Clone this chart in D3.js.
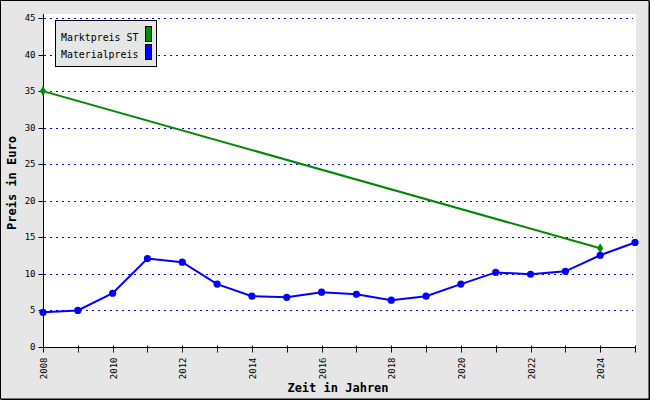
<!DOCTYPE html>
<html><head><meta charset="utf-8">
<script src="https://cdn.jsdelivr.net/npm/d3@7"></script>
<style>body{margin:0;padding:0;background:#fff}svg{display:block}</style>
</head><body>
<script>
const years = [2008,2009,2010,2011,2012,2013,2014,2015,2016,2017,2018,2019,2020,2021,2022,2023,2024,2025];
const materialpreis = [4.75,5.0,7.35,12.1,11.6,8.6,6.95,6.8,7.5,7.2,6.4,6.95,8.6,10.2,9.95,10.35,12.55,14.3];
const marktYears = [2008,2024];
const marktpreis = [35,13.5];
const yTicks = [0,5,10,15,20,25,30,35,40,45];
const xLabelYears = [2008,2010,2012,2014,2016,2018,2020,2022,2024];
const seriesNames = ["Marktpreis ST","Materialpreis"];
const seriesColors = ["#008800","#0000ff"];

const W=650,H=400;
const mono = "'DejaVu Sans Mono', monospace";
const svg = d3.select("body").append("svg").attr("width",W).attr("height",H);
svg.append("rect").attr("x",0.5).attr("y",0.5).attr("width",W-1.5).attr("height",H-1.5)
  .attr("fill","#e6e6e6").attr("stroke","#000").attr("stroke-width",1);
svg.append("line").attr("x1",W-0.5).attr("x2",W-0.5).attr("y1",1).attr("y2",H).attr("stroke","#000");
svg.append("line").attr("x1",1).attr("x2",W).attr("y1",H-0.5).attr("y2",H-0.5).attr("stroke","#000");

const x = d3.scaleLinear().domain([2008,2025]).range([43,635]);
const y = d3.scaleLinear().domain([0,45]).range([347,18]);

svg.append("rect").attr("x",43).attr("y",14).attr("width",593).attr("height",333).attr("fill","#fff");

// grid
svg.append("g").selectAll("line").data(yTicks.filter(d=>d>0)).join("line")
  .attr("x1",44).attr("x2",633).attr("y1",d=>Math.round(y(d))+0.5).attr("y2",d=>Math.round(y(d))+0.5)
  .attr("stroke","#0000ff").attr("stroke-width",1).attr("stroke-dasharray","2,4");

// y axis
const yAxis = d3.axisLeft(y).tickValues(yTicks).tickSize(5).tickPadding(3).tickFormat(d3.format("d"));
const gy = svg.append("g").attr("transform","translate(43.5,0)").call(yAxis);
gy.select(".domain").attr("stroke","#000").attr("d","M0,14V347.5");
gy.selectAll(".tick line").attr("stroke","#000");
gy.selectAll("text").attr("font-family",mono).attr("font-size",9).attr("fill","#000");
gy.selectAll(".tick").attr("transform",d=>`translate(0,${Math.round(y(d))+0.5})`);

// x axis
const xAxis = d3.axisBottom(x).tickValues(years).tickSize(5).tickFormat(d=>xLabelYears.includes(d)?String(d):"");
const gx = svg.append("g").attr("transform","translate(0,347.5)").call(xAxis);
gx.select(".domain").attr("stroke","#000").attr("d","M43,0H635");
gx.selectAll(".tick line").attr("stroke","#000").attr("y1",-2);
gx.selectAll(".tick").attr("transform",d=>`translate(${Math.round(x(d))+0.5},0)`);
gx.selectAll("text").attr("font-family",mono).attr("font-size",9).attr("fill","#000")
  .attr("transform","rotate(-90)").attr("text-anchor","end").attr("x",-10).attr("y",0).attr("dy","0.35em");

// axis titles
svg.append("text").attr("transform","translate(16,183) rotate(-90)").attr("text-anchor","middle")
  .attr("font-family",mono).attr("font-weight","bold").attr("font-size",12).text("Preis in Euro");
svg.append("text").attr("x",338).attr("y",392).attr("text-anchor","middle")
  .attr("font-family",mono).attr("font-weight","bold").attr("font-size",12).text("Zeit in Jahren");

// Marktpreis line
const markt = marktYears.map((d,i)=>[d,marktpreis[i]]);
svg.append("path").datum(markt).attr("fill","none").attr("stroke",seriesColors[0]).attr("stroke-width",2)
  .attr("d",d3.line().x(d=>x(d[0])).y(d=>y(d[1])));
svg.append("g").selectAll("path").data(markt).join("path")
  .attr("transform",d=>`translate(${x(d[0])},${y(d[1])})`)
  .attr("d",d3.symbol(d3.symbolDiamond,30)())
  .attr("fill",seriesColors[0]);

// Materialpreis line
const mat = years.map((d,i)=>[d,materialpreis[i]]);
svg.append("path").datum(mat).attr("fill","none").attr("stroke",seriesColors[1]).attr("stroke-width",2)
  .attr("d",d3.line().x(d=>x(d[0])).y(d=>y(d[1])));
svg.append("g").selectAll("circle").data(mat).join("circle")
  .attr("cx",d=>x(d[0])).attr("cy",d=>y(d[1])).attr("r",3.6).attr("fill",seriesColors[1]);

// legend
const lg = svg.append("g");
lg.append("rect").attr("x",55.5).attr("y",20.5).attr("width",101).attr("height",46)
  .attr("fill","#e6e6e6").attr("stroke","#000");
seriesNames.forEach((n,i)=>{
  lg.append("text").attr("x",61).attr("y",41+i*17).attr("font-family",mono).attr("font-size",10.5)
    .attr("textLength",n.length*5.95).attr("lengthAdjust","spacingAndGlyphs").text(n);
  lg.append("rect").attr("x",145.5).attr("y",26.5+i*18).attr("width",6).attr("height",15)
    .attr("fill",seriesColors[i]).attr("stroke","#000");
});
</script>
</body></html>
